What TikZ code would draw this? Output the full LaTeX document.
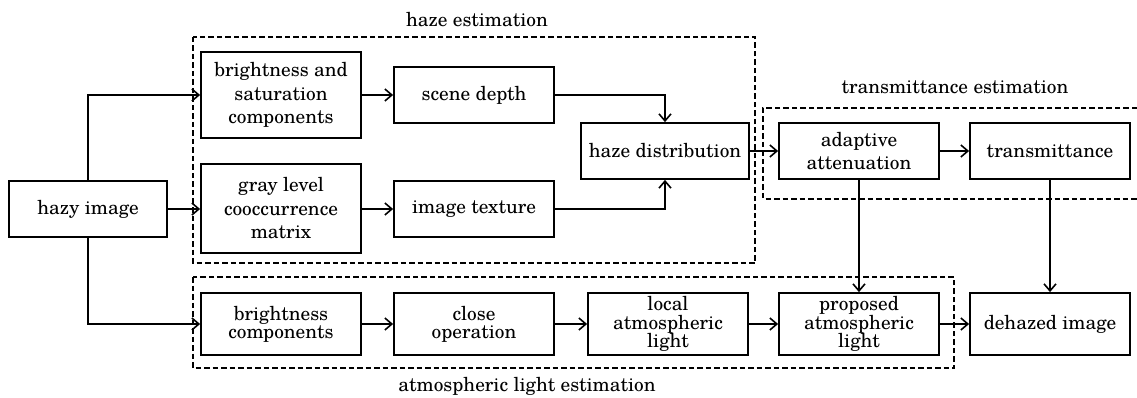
\documentclass[tikz,border=0pt]{standalone}
\usepackage{fontspec}
\setmainfont{TeX Gyre Schola}
\usetikzlibrary{arrows.meta}
\tikzset{
  box/.style={draw, line width=1.8pt, minimum width=160pt, align=center, inner sep=1pt},
  tall/.style={minimum height=86pt},
  mid/.style={minimum height=56pt},
  low/.style={minimum height=62pt},
  wide/.style={font=\fontsize{19.3}{23.5}\selectfont},
  tight/.style={font=\fontsize{19.3}{18.2}\selectfont},
  conn/.style={line width=1.8pt, -{Straight Barb[length=7pt,width=12pt,line width=1.6pt]}},
  grp/.style={line width=2pt, dash pattern=on 5.5pt off 3pt},
  lbl/.style={font=\fontsize{19.3}{22}\selectfont}
}
\begin{document}
\begin{tikzpicture}[x=1pt,y=-1pt]
\useasboundingbox[fill=white] (0,0) rectangle (1137,398);
% group frames
\draw[grp] (193,37) rectangle (755,263);
\draw[grp] (1137,108) -- (763,108) -- (763,199) -- (1137,199);
\draw[grp] (193,277) rectangle (954,368);
\node[lbl] (lh) at (477,20) {haze estimation};
\node[lbl] (lt) at (955,87) {transmittance estimation};
\node[lbl] (la) at (527,386) {atmospheric light estimation};
% nodes
\node[box, wide, minimum width=158pt, mid] (hazy) at (88,209) {hazy image};
\node[box, wide, tall] (bs) at (281,95) {brightness and\\saturation\\components};
\node[box, wide, mid] (sd) at (474,95) {scene depth};
\node[box, wide, minimum height=89pt] (gl) at (281,208.5) {gray level\\cooccurrence\\matrix};
\node[box, wide, mid] (it) at (474,209) {image texture};
\node[box, wide, mid, minimum width=168pt] (hd) at (665,151) {haze distribution};
\node[box, wide, mid] (aa) at (859,151) {adaptive\\attenuation};
\node[box, wide, mid] (tr) at (1050,151) {transmittance};
\node[box, tight, low] (bc) at (281,324) {brightness\\components};
\node[box, tight, low] (co) at (474,324) {close\\operation};
\node[box, tight, low] (ll) at (668,324) {local\\atmospheric\\light};
\node[box, tight, low] (pa) at (859,324) {proposed\\atmospheric\\light};
\node[box, wide, low] (dh) at (1050,324) {dehazed image};
% connectors
\draw[conn] (hazy.north) |- (bs.west);
\draw[conn] (hazy.east) -- (gl.west |- hazy.east);
\draw[conn] (hazy.south) |- (bc.west);
\draw[conn] (bs) -- (sd);
\draw[conn] (gl.east |- it.west) -- (it.west);
\draw[conn] (sd.east) -| (hd.north);
\draw[conn] (it.east) -| (hd.south);
\draw[conn] (hd) -- (aa);
\draw[conn] (aa) -- (tr);
\draw[conn] (aa.south) -- (pa.north);
\draw[conn] (tr.south) -- (dh.north);
\draw[conn] (bc) -- (co);
\draw[conn] (co) -- (ll);
\draw[conn] (ll) -- (pa);
\draw[conn] (pa) -- (dh);
\end{tikzpicture}
\end{document}
